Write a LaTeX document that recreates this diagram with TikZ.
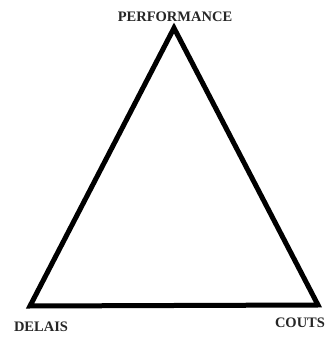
\documentclass[tikz,border=0pt]{standalone}
\usepackage{fontspec}
\setmainfont{Liberation Serif}
\tikzset{
  corner/.style={font=\fontsize{14.5}{14.5}\selectfont\bfseries, text=black!85, inner sep=0pt},
  side/.style={line width=5pt, line join=miter, black},
}
\begin{document}
\begin{tikzpicture}[x=1pt,y=1pt]
\useasboundingbox (0,0) rectangle (331,339);

% corners of the triangle
\coordinate (top) at (174,311);
\coordinate (left) at (30,33);
\coordinate (right) at (318,34);

\draw[side] (top) -- (left) -- (right) -- cycle;

% labels at the corners
\node[corner] (perf) at (175,322) {PERFORMANCE};
\node[corner] (delais) at (41,12) {DELAIS};
\node[corner] (couts) at (300,16) {COUTS};

\end{tikzpicture}
\end{document}
